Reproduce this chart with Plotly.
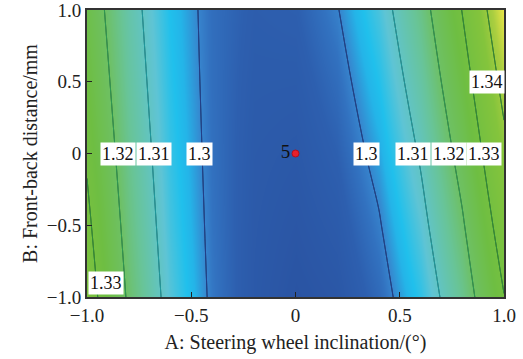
import plotly.graph_objects as go

# Grid (response surface values)
x_vals = [-1.0, -0.8, -0.6, -0.4, -0.2, 0.0, 0.2, 0.4, 0.6, 0.8, 1.0]
y_vals = [-1.0, -0.5, 0.0, 0.5, 1.0]
z_ym10 = [1.3338, 1.3190, 1.3074, 1.2990, 1.2938, 1.2918, 1.2930, 1.2974, 1.3050, 1.3158, 1.3298]
z_ym05 = [1.3315, 1.3173, 1.3063, 1.2986, 1.2940, 1.2927, 1.2945, 1.2995, 1.3078, 1.3192, 1.3339]
z_y000 = [1.3292, 1.3157, 1.3054, 1.2983, 1.2943, 1.2936, 1.2961, 1.3018, 1.3107, 1.3227, 1.3380]
z_yp05 = [1.3271, 1.3142, 1.3046, 1.2981, 1.2948, 1.2947, 1.2978, 1.3042, 1.3137, 1.3264, 1.3423]
z_yp10 = [1.3251, 1.3129, 1.3039, 1.2980, 1.2954, 1.2959, 1.2997, 1.3067, 1.3168, 1.3302, 1.3467]
z_grid = [z_ym10, z_ym05, z_y000, z_yp05, z_yp10]

levels = [1.30, 1.31, 1.32, 1.33, 1.34]
line_colors = ["#233f8a", "#1f9a9e", "#2e9a55", "#2f8f3e", "#2f8a3a"]

# Contour labels (text, x, y)
label_text = ["1.32", "1.31", "1.3", "1.3", "1.31", "1.32", "1.33", "1.34", "1.33"]
label_x = [-0.85, -0.68, -0.46, 0.34, 0.565, 0.735, 0.905, 0.92, -0.91]
label_y = [0.0, 0.0, 0.0, 0.0, 0.0, 0.0, 0.0, 0.5, -0.9]

center_x = [0.0]
center_y = [0.0]
center_count = ["5"]

tick_vals = [-1.0, -0.5, 0.0, 0.5, 1.0]
tick_text = ["\u22121.0", "\u22120.5", "0", "0.5", "1.0"]

zlo, zhi = 1.2918, 1.3467
stops = [
    (1.2918, "rgb(42,84,163)"),
    (1.2960, "rgb(45,95,175)"),
    (1.2985, "rgb(50,114,192)"),
    (1.3000, "rgb(55,132,205)"),
    (1.3025, "rgb(36,180,232)"),
    (1.3040, "rgb(32,192,236)"),
    (1.3080, "rgb(95,196,212)"),
    (1.3150, "rgb(104,196,152)"),
    (1.3200, "rgb(110,192,100)"),
    (1.3270, "rgb(110,190,66)"),
    (1.3370, "rgb(132,196,60)"),
    (1.3420, "rgb(170,206,64)"),
    (1.3467, "rgb(235,230,72)"),
]
colorscale = [[(v - zlo) / (zhi - zlo), c] for v, c in stops]

SERIF = "Liberation Serif, Times New Roman, serif"

fig = go.Figure()
fig.add_trace(go.Contour(
    x=x_vals, y=y_vals, z=z_grid,
    colorscale=colorscale, zmin=zlo, zmax=zhi,
    contours=dict(coloring="heatmap", showlines=False, start=1.3, end=1.34, size=0.01),
    showscale=False, hoverinfo="skip",
))
for lv, lc in zip(levels, line_colors):
    fig.add_trace(go.Contour(
        x=x_vals, y=y_vals, z=z_grid,
        contours=dict(coloring="none", start=lv, end=lv, size=0.01),
        line=dict(color=lc, width=1),
        showscale=False, hoverinfo="skip",
    ))

fig.add_trace(go.Scatter(
    x=center_x, y=center_y, mode="markers+text", text=center_count,
    textposition="middle left",
    textfont=dict(family=SERIF, size=19, color="#111"),
    marker=dict(symbol="circle", size=7, color="#e8202a", line=dict(color="#b01020", width=1)),
    showlegend=False, hoverinfo="skip",
))

for t, lx, ly in zip(label_text, label_x, label_y):
    fig.add_annotation(
        x=lx, y=ly, text=t, showarrow=False,
        font=dict(family=SERIF, size=18, color="#111"),
        bgcolor="white", borderpad=1,
    )

axis_common = dict(
    range=[-1, 1], tickvals=tick_vals, ticktext=tick_text,
    ticks="inside", ticklen=5, tickcolor="#222", tickwidth=1,
    showline=True, linecolor="#333", linewidth=2, mirror=True,
    showgrid=False, zeroline=False, automargin=False,
    ticklabeloverflow="allow",
    tickfont=dict(family=SERIF, size=19, color="#222"),
)

fig.update_layout(
    width=523, height=359,
    margin=dict(l=87, r=19, t=10, b=62, autoexpand=False),
    paper_bgcolor="white", plot_bgcolor="white",
    showlegend=False,
    xaxis=dict(**axis_common,
               title=dict(text="A: Steering wheel inclination/(\u00b0)",
                          font=dict(family=SERIF, size=20, color="#222"), standoff=10)),
    yaxis=dict(**axis_common,
               title=dict(text="B: Front-back distance/mm",
                          font=dict(family=SERIF, size=20, color="#222"), standoff=4)),
)

fig.write_html("out.html")
